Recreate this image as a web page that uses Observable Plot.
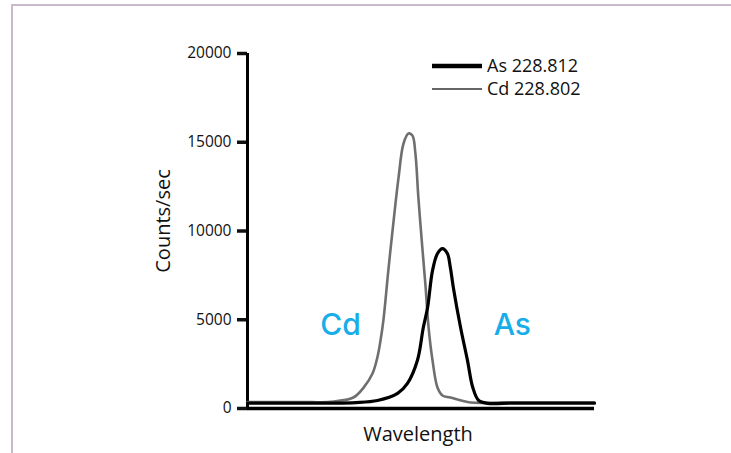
<!DOCTYPE html>
<html>
<head>
<meta charset="utf-8">
<script src="https://cdn.jsdelivr.net/npm/d3@7"></script>
<script src="https://cdn.jsdelivr.net/npm/@observablehq/plot@0.6"></script>
<style>
  html, body { margin: 0; padding: 0; background: #fff; }
  #wrap { position: relative; width: 731px; height: 453px; overflow: hidden; }
  #frame { position: absolute; left: 11px; top: 4px; width: 731px; height: 460px;
           border-top: 2px solid #c9bac9; border-left: 2px solid #c9bac9; box-sizing: border-box; }
  #chart { position: absolute; left: 0; top: 0; }
</style>
</head>
<body>
<div id="wrap"><div id="frame"></div><div id="chart"></div></div>
<script>
// Wavelength (nm) and counts/sec
const cdWavelength = [228.7532, 228.7600, 228.7700, 228.7784, 228.7853, 228.7884, 228.7911, 228.7926, 228.7935, 228.7944, 228.7959, 228.7975, 228.7990, 228.8005, 228.8020, 228.8032, 228.8041, 228.8050, 228.8062, 228.8072, 228.8081, 228.8093, 228.8108, 228.8123, 228.8147, 228.8208, 228.8300, 228.8400, 228.8500, 228.8584];
const cdCounts     = [360, 360, 360, 380, 620, 1180, 1970, 2900, 3800, 4960, 7780, 10590, 13020, 14930, 15490, 15380, 14370, 11890, 9070, 6820, 4560, 2700, 1180, 730, 620, 340, 340, 340, 340, 340];
const asWavelength = [228.7532, 228.7600, 228.7700, 228.7784, 228.7860, 228.7926, 228.7987, 228.8017, 228.8047, 228.8065, 228.8078, 228.8093, 228.8108, 228.8123, 228.8138, 228.8147, 228.8156, 228.8178, 228.8199, 228.8215, 228.8233, 228.8260, 228.8330, 228.8400, 228.8500, 228.8584];
const asCounts     = [300, 300, 300, 300, 330, 450, 850, 1410, 2700, 4560, 5690, 7780, 8730, 9010, 8730, 7940, 6820, 4560, 2700, 1180, 450, 290, 300, 300, 300, 300];
const yTicks = [0, 5000, 10000, 15000, 20000];
const seriesNames = ["As 228.812", "Cd 228.802"];
const peakLabels = ["Cd", "As"];
const peakLabelX = [228.7814, 228.8335];
const peakLabelY = [4700, 4700];

const cd = cdWavelength.map((w, i) => ({w, c: cdCounts[i]}));
const as = asWavelength.map((w, i) => ({w, c: asCounts[i]}));
const labels = peakLabels.map((t, i) => ({t, w: peakLabelX[i], c: peakLabelY[i]}));

const font = "'Open Sans', sans-serif";
const chart = Plot.plot({
  width: 731,
  height: 453,
  marginLeft: 247,
  marginRight: 137,
  marginTop: 53,
  marginBottom: 45,
  style: {fontFamily: font, background: "transparent", color: "#111"},
  x: {domain: [228.7532, 228.8584], axis: null},
  y: {domain: [0, 20000], axis: null},
  marks: [
    Plot.axisY({ticks: yTicks, tickSize: 10, tickPadding: 6, strokeWidth: 3.5, fontSize: 15.5, label: null, tickFormat: d => String(d)}),
    Plot.ruleX([228.7532], {y1: 0, y2: 20000, stroke: "#000", strokeWidth: 3}),
    Plot.ruleY([0], {stroke: "#000", strokeWidth: 3.5}),
    Plot.line(cd, {x: "w", y: "c", stroke: "#6f6f6f", strokeWidth: 2.6, curve: "catmull-rom"}),
    Plot.line(as, {x: "w", y: "c", stroke: "#000", strokeWidth: 3.2, curve: "catmull-rom"}),
    Plot.text(labels, {x: "w", y: "c", text: "t", fill: "#17ade9", fontSize: 30, fontWeight: 500, fontFamily: "Inter, sans-serif", textAnchor: "middle"})
  ]
});
document.getElementById("chart").appendChild(chart);

const svg = d3.select(chart);
// axis titles
svg.append("text").attr("transform", "translate(170,221) rotate(-90)")
  .attr("text-anchor", "middle").attr("font-size", 20).attr("font-family", font).attr("fill", "#111")
  .text("Counts/sec");
svg.append("text").attr("x", 418).attr("y", 441)
  .attr("text-anchor", "middle").attr("font-size", 20).attr("font-family", font).attr("fill", "#111")
  .text("Wavelength");
// legend
const legend = svg.append("g");
[{w: 4.5, s: "#000"}, {w: 1.4, s: "#333"}].forEach((d, i) => {
  const y = 66 + i * 23;
  legend.append("line").attr("x1", 432).attr("x2", 482).attr("y1", y).attr("y2", y)
    .attr("stroke", d.s).attr("stroke-width", d.w);
  legend.append("text").attr("x", 487).attr("y", y).attr("dy", "0.35em")
    .attr("text-anchor", "start")
    .attr("font-size", 18).attr("font-family", font).attr("fill", "#111")
    .text(seriesNames[i]);
});
</script>
</body>
</html>
